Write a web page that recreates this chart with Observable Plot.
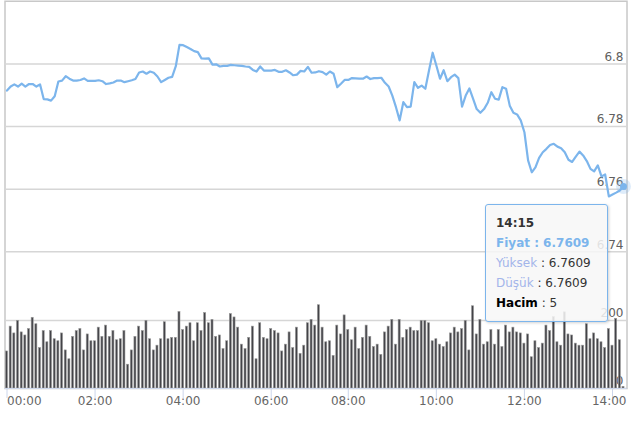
<!DOCTYPE html>
<html>
<head>
<meta charset="utf-8">
<script src="https://cdn.jsdelivr.net/npm/d3@7"></script>
<script src="https://cdn.jsdelivr.net/npm/@observablehq/plot@0.6"></script>
<style>
  html, body { margin: 0; padding: 0; background: #fff; }
  #wrap { position: relative; width: 636px; height: 433px; font-family: "DejaVu Sans", sans-serif; }
  #wrap svg { position: absolute; left: 0; top: 0; }
  #tip {
    position: absolute; left: 485px; top: 204px; width: 111px; height: 108px;
    padding: 8px 0 0 10px;
    background: rgba(247,247,247,0.86); border: 1px solid #7cb5ec; border-radius: 3px;
    box-shadow: 1px 1px 3px rgba(0,0,0,0.18);
    font-size: 12px; line-height: 20px; color: #333; white-space: nowrap;
  }
  #tip b { font-weight: bold; }
</style>
</head>
<body>
<div id="wrap"></div>
<script>
// 5-minute bars, ordinal axis (index positions)
const prices = [
  6.7915, 6.7928, 6.7935, 6.7928, 6.7937, 6.7928, 6.7936, 6.7936, 6.7928, 6.7935,
  6.7888, 6.7887, 6.7883, 6.7897, 6.7944, 6.7947, 6.7961, 6.7953, 6.7947, 6.7947,
  6.7949, 6.7954, 6.7946, 6.7946, 6.7946, 6.7948, 6.7945, 6.7936, 6.7938, 6.7941,
  6.7947, 6.7947, 6.7942, 6.7945, 6.7948, 6.7952, 6.7973, 6.7976, 6.7969, 6.7976,
  6.7972, 6.7960, 6.7942, 6.7949, 6.7956, 6.7959, 6.7993, 6.8061, 6.8060, 6.8054,
  6.8048, 6.8041, 6.8038, 6.8018, 6.8017, 6.8018, 6.7998, 6.7999, 6.7992, 6.7994,
  6.7994, 6.7997, 6.7996, 6.7995, 6.7994, 6.7992, 6.7991, 6.7981, 6.7976, 6.7992,
  6.7979, 6.7979, 6.7979, 6.7981, 6.7975, 6.7975, 6.7980, 6.7973, 6.7964, 6.7966,
  6.7978, 6.7976, 6.7991, 6.7972, 6.7973, 6.7977, 6.7974, 6.7966, 6.7976, 6.7969,
  6.7926, 6.7937, 6.7949, 6.7949, 6.7955, 6.7954, 6.7953, 6.7953, 6.7960, 6.7952,
  6.7955, 6.7955, 6.7956, 6.7940, 6.7928, 6.7899, 6.7862, 6.7820, 6.7878, 6.7862,
  6.7864, 6.7942, 6.7924, 6.7931, 6.7921, 6.7979, 6.8036, 6.7995, 6.7953, 6.7980,
  6.7945, 6.7958, 6.7966, 6.7955, 6.7864, 6.7899, 6.7922, 6.7889, 6.7856, 6.7844,
  6.7856, 6.7876, 6.7910, 6.7889, 6.7886, 6.7926, 6.7921, 6.7867, 6.7844, 6.7839,
  6.7820, 6.7782, 6.7692, 6.7654, 6.7670, 6.7700, 6.7718, 6.7729, 6.7741, 6.7745,
  6.7736, 6.7731, 6.7718, 6.7694, 6.7687, 6.7704, 6.7720, 6.7708, 6.7690, 6.7665,
  6.7657, 6.7676, 6.7641, 6.7647, 6.7577, 6.7583, 6.7589, 6.7596, 6.7609
];
const volumes = [
  109, 182, 162, 199, 165, 156, 175, 208, 189, 119,
  169, 136, 169, 145, 139, 162, 112, 86, 152, 169,
  175, 112, 159, 139, 139, 179, 152, 185, 152, 169,
  142, 145, 169, 70, 112, 152, 182, 169, 199, 145,
  112, 126, 145, 195, 145, 149, 149, 225, 172, 182,
  192, 139, 192, 169, 222, 192, 202, 152, 156, 116,
  139, 219, 209, 179, 129, 116, 149, 182, 86, 192,
  149, 145, 175, 169, 162, 109, 129, 165, 119, 179,
  102, 126, 192, 202, 185, 245, 179, 136, 139, 96,
  185, 159, 215, 172, 142, 179, 116, 149, 185, 152,
  122, 129, 99, 165, 182, 202, 129, 202, 149, 172,
  179, 169, 169, 199, 199, 192, 139, 145, 129, 122,
  136, 162, 179, 165, 175, 199, 112, 242, 159, 202,
  129, 136, 172, 129, 172, 122, 185, 165, 179, 165,
  162, 132, 159, 92, 139, 119, 132, 185, 169, 210,
  136, 126, 224, 159, 156, 132, 126, 126, 189, 145,
  162, 145, 136, 119, 175, 126, 205, 142, 5
];
const xTickIndex = [0, 24, 48, 72, 93, 117, 141, 165];
const xTickLabels = ["00:00", "02:00", "04:00", "06:00", "08:00", "10:00", "12:00", "14:00"];
const priceTicks = [6.74, 6.76, 6.78, 6.8];
const volumeTicks = [0, 200];
const lastTime = "14:15";

const data = prices.map((p, i) => ({i, p, v: volumes[i]}));
const last = data[data.length - 1];
const xTicks = xTickIndex.map((i, k) => ({i, label: xTickLabels[k]}));

const common = {
  width: 636, height: 433,
  marginLeft: 4.5, marginRight: 9.5, marginTop: 0.75, marginBottom: 45,
  style: {background: "transparent", fontFamily: "DejaVu Sans, sans-serif", fontSize: "12px"}
};
const xScale = {type: "linear", domain: [0, 168], range: [6.5, 623], axis: null};

const pricePlot = Plot.plot({
  ...common,
  x: xScale,
  y: {domain: [6.74, 6.8], range: [251.3, 63.5], axis: null},
  marks: [
    Plot.frame({stroke: "#c8c8c8", strokeWidth: 1.5}),
    Plot.ruleY(priceTicks, {y: d => d, stroke: "#d6d6d6", strokeWidth: 1.5}),
    Plot.text(priceTicks, {y: d => d, text: d => String(d), frameAnchor: "right", textAnchor: "end", dx: -3.5, dy: -7, fill: "#606060"}),
    Plot.line(data, {x: "i", y: "p", stroke: "#7cb5ec", strokeWidth: 2.2}),
    Plot.dot([last], {x: "i", y: "p", r: 7.5, fill: "#7cb5ec", fillOpacity: 0.25, stroke: null}),
    Plot.dot([last], {x: "i", y: "p", r: 3.5, fill: "#7cb5ec", stroke: null})
  ]
});

const volumePlot = Plot.plot({
  ...common,
  x: xScale,
  y: {domain: [0, 200], range: [388, 320], axis: null},
  marks: [
    Plot.ruleY([200], {y: d => d, stroke: "#d6d6d6", strokeWidth: 1.5}),
    Plot.text(volumeTicks, {y: d => d, text: d => String(d), frameAnchor: "right", textAnchor: "end", dx: -3.5, dy: -7, fill: "#606060"}),
    Plot.rect(data, {x1: d => d.i - 0.28, x2: d => d.i + 0.28, y1: 0, y2: "v", fill: "#434348", stroke: "#9a9a9a", strokeWidth: 0.6}),
    Plot.ruleY([0], {y: d => d, stroke: "#ccd6eb", strokeWidth: 1}),
    Plot.ruleX(xTicks, {x: "i", y1: 0, y2: -29.4, stroke: "#ccd6eb", strokeWidth: 1}),
    Plot.text(xTicks.slice(0, 1), {x: "i", text: "label", frameAnchor: "bottom", dy: 16.5, textAnchor: "start", fill: "#666"}),
    Plot.text(xTicks.slice(1, -1), {x: "i", text: "label", frameAnchor: "bottom", dy: 16.5, textAnchor: "middle", fill: "#666"}),
    Plot.text(xTicks.slice(-1), {x: "i", text: "label", frameAnchor: "bottom", dy: 16.5, textAnchor: "end", dx: 14, fill: "#666"})
  ]
});

const wrap = document.getElementById("wrap");
wrap.appendChild(pricePlot);
wrap.appendChild(volumePlot);

const tip = document.createElement("div");
tip.id = "tip";
tip.innerHTML =
  `<div><b>${lastTime}</b></div>` +
  `<div style="color:#7cb5ec"><b>Fiyat : ${last.p.toFixed(4)}</b></div>` +
  `<div><span style="color:#a3b5ea">Yüksek</span> : ${last.p.toFixed(4)}</div>` +
  `<div><span style="color:#a3b5ea">Düşük</span> : ${last.p.toFixed(4)}</div>` +
  `<div><b style="color:#000">Hacim</b> : ${last.v}</div>`;
wrap.appendChild(tip);
</script>
</body>
</html>
